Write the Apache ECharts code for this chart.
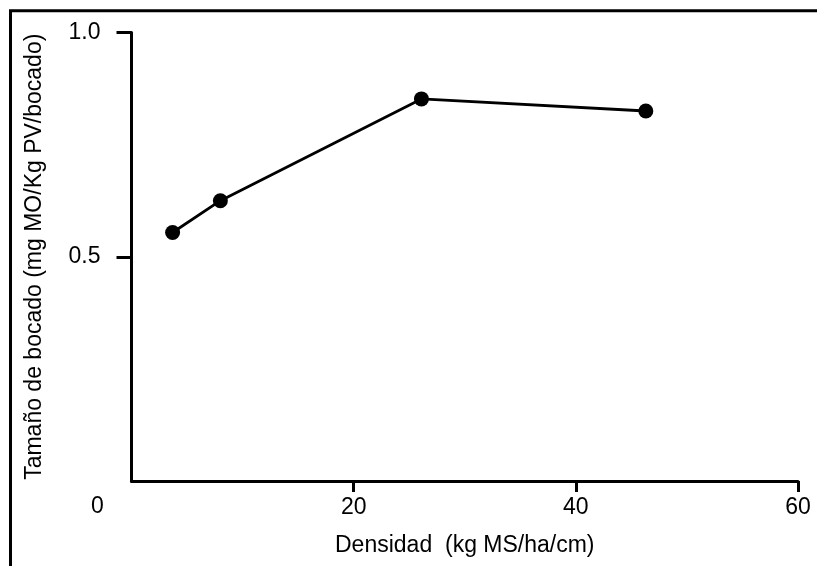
<!DOCTYPE html>
<html>
<head>
<meta charset="utf-8">
<script src="https://cdn.jsdelivr.net/npm/echarts@6/dist/echarts.min.js"></script>
<style>
html,body{margin:0;padding:0;background:#fff;}
#c{width:817px;height:566px;}
</style>
</head>
<body>
<div id="c"></div>
<script>
const densidad = [3.7, 8.0, 26.1, 46.3];
const tamano = [0.554, 0.625, 0.852, 0.825];
const xTicks = [20, 40, 60];
const yTicks = [0.5, 1.0];
const xTitle = 'Densidad  (kg MS/ha/cm)';
const yTitle = 'Tamaño de bocado (mg MO/Kg PV/bocado)';
const originLabel = '0';

const font = 'Liberation Sans, Arial, sans-serif';
const fs = 23;
const chart = echarts.init(document.getElementById('c'), null, {renderer: 'canvas'});
chart.setOption({
  animation: false,
  backgroundColor: '#fff',
  grid: {left: 131.5, right: 19, top: 32.5, bottom: 85, containLabel: false},
  xAxis: {
    type: 'value', min: 0, max: 60, interval: 20,
    name: xTitle, nameLocation: 'middle', nameGap: 53,
    nameTextStyle: {fontFamily: font, fontSize: fs, color: '#000'},
    axisLine: {show: true, onZero: false, lineStyle: {color: '#000', width: 3}},
    axisTick: {show: true, length: 11, lineStyle: {color: '#000', width: 3}, customValues: xTicks},
    axisLabel: {fontFamily: font, fontSize: fs, color: '#000', margin: 15, customValues: xTicks},
    splitLine: {show: false}
  },
  yAxis: {
    type: 'value', min: 0, max: 1, interval: 0.5,
    name: yTitle, nameLocation: 'middle', nameGap: 85,
    nameTextStyle: {fontFamily: font, fontSize: fs, color: '#000'},
    axisLine: {show: true, onZero: false, lineStyle: {color: '#000', width: 3}},
    axisTick: {show: true, length: 15, lineStyle: {color: '#000', width: 3}, customValues: yTicks},
    axisLabel: {fontFamily: font, fontSize: fs, color: '#000', margin: 31, customValues: yTicks,
      formatter: v => v.toFixed(1)},
    splitLine: {show: false}
  },
  graphic: [
    {type: 'polyline', shape: {points: [[10.5, 566], [10.5, 10.7], [817, 10.7]]},
     style: {stroke: '#000', lineWidth: 3, fill: null}},
    {type: 'text', left: 91, top: 495, style: {text: originLabel, font: fs + 'px ' + font, fill: '#000'}}
  ],
  series: [{
    type: 'line',
    data: densidad.map((x, i) => [x, tamano[i]]),
    symbol: 'circle', symbolSize: 15,
    itemStyle: {color: '#000'},
    lineStyle: {color: '#000', width: 2.8}
  }]
});
</script>
</body>
</html>
